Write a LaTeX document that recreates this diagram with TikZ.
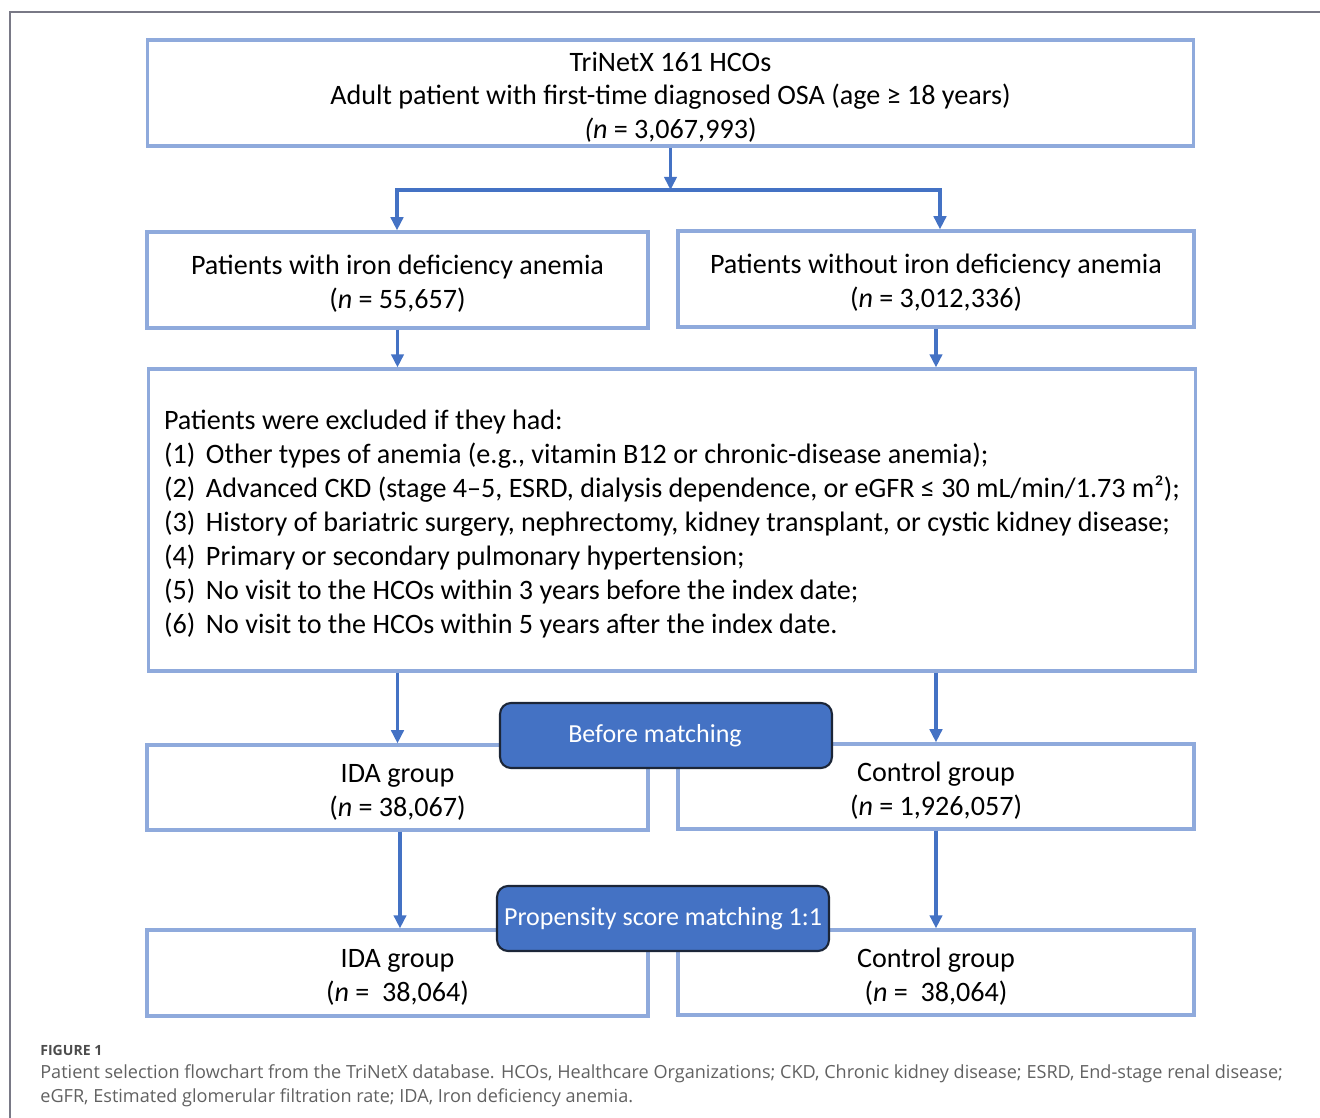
\documentclass[tikz,border=0pt]{standalone}
\usepackage{fontspec}
\usepackage{tikz}
\usepackage{xcolor}
\usetikzlibrary{arrows.meta}
\setmainfont{Carlito}
\newfontfamily\captionfont{Open Sans}
\definecolor{boxline}{HTML}{8FAADC}
\definecolor{arrowblue}{HTML}{4472C4}
\definecolor{stageline}{HTML}{1C2638}
\colorlet{framegray}{gray!95!blue}
\colorlet{captiongray}{black!62}
\newcommand{\itm}[1]{\makebox[0.84cm][l]{(#1)}}
\newcommand{\tstrut}{\rule{0pt}{15.6pt}}

\begin{document}
\begin{tikzpicture}[x=0.02cm,y=-0.02cm,
    box/.style={draw=boxline,line width=1.8pt,align=center,inner sep=0pt,
        font=\fontsize{16}{19.2}\selectfont},
    stage/.style={draw=stageline,fill=arrowblue,line width=1.2pt,rounded corners=0.22cm,
        text=white,minimum width=6.64cm,minimum height=1.3cm,font=\fontsize{14.8}{18}\selectfont},
    arr/.style={arrowblue,line width=1.9pt,-{Triangle[length=7.5pt,width=7pt]}}]
            \useasboundingbox (0,0) rectangle (1320,1118);
            % outer frame
            \draw[framegray,line width=0.9pt] (10,1118) -- (10,12) -- (1320,12);
            % coordinates
            \coordinate (splitL) at (397,190);
            \coordinate (splitR) at (940,190);
            % boxes
            \node[box,minimum width=20.94cm,minimum height=2.12cm] (cohort) at (670.5,93)
                {\tstrut TriNetX 161 HCOs\\Adult patient with first-time diagnosed OSA (age ≥ 18 years)\\\textit{(n} = 3,067,993)};
            \node[box,minimum width=10.02cm,minimum height=1.92cm] (withida) at (397.5,280)
                {\tstrut Patients with iron deficiency anemia\\(\textit{n} = 55,657)};
            \node[box,minimum width=10.32cm,minimum height=1.92cm] (withoutida) at (936,279)
                {\tstrut Patients without iron deficiency anemia\\(\textit{n} = 3,012,336)};
            \node[box,align=left,minimum width=20.96cm,minimum height=6.04cm,
                font=\fontsize{16}{19.3}\selectfont] (excl) at (672,520)
                {\tstrut Patients were excluded if they had:\\
                 \itm{1}Other types of anemia (e.g., vitamin B12 or chronic-disease anemia);\\
                 \itm{2}Advanced CKD (stage 4–5, ESRD, dialysis dependence, or eGFR ≤ 30 mL/min/1.73 m²);\\
                 \itm{3}History of bariatric surgery, nephrectomy, kidney transplant, or cystic kidney disease;\\
                 \itm{4}Primary or secondary pulmonary hypertension;\\
                 \itm{5}No visit to the HCOs within 3 years before the index date;\\
                 \itm{6}No visit to the HCOs within 5 years after the index date.};
            \node[box,minimum width=10.02cm,minimum height=1.7cm] (ida) at (397.5,787.5)
                {\tstrut IDA group\\(\textit{n} = 38,067)};
            \node[box,minimum width=10.32cm,minimum height=1.7cm] (control) at (936,786.5)
                {\tstrut Control group\\(\textit{n} = 1,926,057)};
            \node[box,minimum width=10.02cm,minimum height=1.72cm] (idamatched) at (397.5,973)
                {\tstrut IDA group\\(\textit{n} = \ 38,064)};
            \node[box,minimum width=10.32cm,minimum height=1.7cm] (controlmatched) at (936,972.5)
                {\tstrut Control group\\(\textit{n} = \ 38,064)};
            % arrows
            \draw[arr] (cohort.south) -- (cohort.south |- splitL);
            \draw[arr] (splitR) -- (splitL) -- (splitL |- withida.north);
            \draw[arr] (splitL) -- (splitR) -- (splitR |- withoutida.north);
            \draw[arr] (withida.south) -- (withida.south |- excl.north);
            \draw[arr] (withoutida.south) -- (withoutida.south |- excl.north);
            \draw[arr] (excl.south -| ida.north) -- (ida.north);
            \draw[arr] (excl.south -| control.north) -- (control.north);
            \draw[arr] (ida.south) ++(2.5,0) coordinate (idadown) -- (idadown |- idamatched.north);
            \draw[arr] (control.south) -- (controlmatched.north);
            % stage labels
            \node[stage] (before) at (666,735.5) {Before matching\hspace*{0.44cm}};
            \node[stage] (psm) at (663,918.5) {Propensity score matching 1:1};
            % caption
            \node[anchor=west,inner sep=0pt,text=black!70,font=\captionfont\bfseries\fontsize{8}{9}\selectfont]
                (figlabel) at (40,1050) {FIGURE 1};
            \node[anchor=north west,align=left,inner sep=0pt,text=captiongray,
                font=\captionfont\fontsize{10.3}{13.6}\selectfont] (figcaption) at (40,1064)
                {Patient selection flowchart from the TriNetX database. HCOs, Healthcare Organizations; CKD, Chronic kidney disease; ESRD, End-stage renal disease;\\
                 eGFR, Estimated glomerular filtration rate; IDA, Iron deficiency anemia.};
        \end{tikzpicture}
\end{document}
